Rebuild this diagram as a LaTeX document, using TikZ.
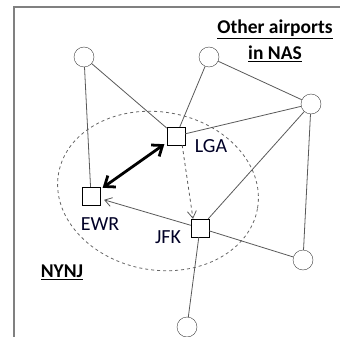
\documentclass[tikz,border=0pt]{standalone}
\usepackage{fontspec}
\setmainfont{Carlito}
\usetikzlibrary{arrows.meta}
\begin{document}
\begin{tikzpicture}[
        x=1pt, y=-1pt,
        airport/.style={circle, draw=black!75, fill=white, minimum size=20pt, inner sep=0pt},
        hub/.style={rectangle, draw=black, fill=white, minimum size=18pt, inner sep=0pt},
        link/.style={draw=black!65, line width=0.8pt},
        label/.style={font=\fontsize{20}{22}\selectfont, text=black!85!blue},
        title/.style={font=\fontsize{19.5}{26}\selectfont\bfseries, text=black, align=center},
        arrow/.style={-{Straight Barb[length=7pt,width=9pt]}, draw=black!65, line width=0.8pt}
    ]
        \useasboundingbox (0,0) rectangle (340,337);
        \clip (0,0) rectangle (340,337);
        % Frame
        \draw[black!50, line width=2pt] (14,400) -- (14,7) -- (400,7);

        % NYNJ region
        \draw[black!60, dashed, line width=0.8pt, rotate around={-10:(158,191)}] (158,191) ellipse (101 and 79);

        % Hubs
        \node[hub] (lga) at (176,136) {};
        \node[hub] (ewr) at (91,196) {};
        \node[hub] (jfk) at (200,228) {};

        % Other airports
        \node[airport] (a) at (84,57) {};
        \node[airport] (b) at (209,57) {};
        \node[airport] (c) at (311,104) {};
        \node[airport] (d) at (303,260) {};
        \node[airport] (e) at (187,327) {};

        % Labels
        \node[label] (lgalbl) at (211,146) {LGA};
        \node[label] (ewrlbl) at (100,224) {EWR};
        \node[label] (jfklbl) at (168,237) {JFK};
        \node[title] (nynj) at (62,272) {\underline{NYNJ}};
        \node[title] (nas) at (275,41) {\underline{Other airports}\\\underline{in NAS}};

        % Links
        \draw[link] (a) -- (ewr);
        \draw[link] (a) -- (lga);
        \draw[link] (b) -- (lga);
        \draw[link] (b) -- (c);
        \draw[link] (c) -- (lga);
        \draw[link] (c) -- (jfk);
        \draw[link] (c) -- (d);
        \draw[link] (jfk) -- (d);
        \draw[link] (jfk) -- (e);

        % Flows
        \draw[{Straight Barb[length=9pt,width=14pt]}-{Straight Barb[length=9pt,width=14pt]}, line width=2.8pt, black, shorten <=3pt, shorten >=3pt] (lga) -- (ewr);
        \draw[arrow, dashed] (lga.south east) ++(-3,0) -- ([xshift=-7pt]jfk.north);
        \draw[arrow, shorten >=4pt] (jfk) -- (ewr);
    \end{tikzpicture}
\end{document}
